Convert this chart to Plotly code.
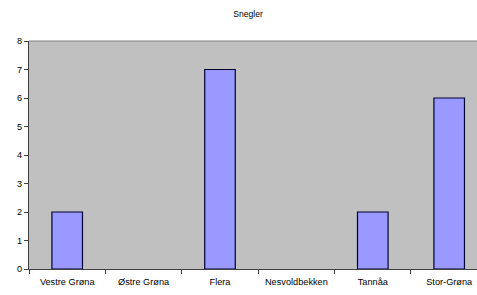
import plotly.graph_objects as go

categories = ["Vestre Grøna", "Østre Grøna", "Flera", "Nesvoldbekken", "Tannåa", "Stor-Grøna"]
values = [2, 0, 7, 0, 2, 6]
y_ticks = [0, 1, 2, 3, 4, 5, 6, 7, 8]
title = "Snegler"

W, H = 477, 295

fig = go.Figure(go.Bar(
    x=categories, y=values, width=0.4,
    marker=dict(color="#9999FF",
                line=dict(color="#000033", width=[1.2 if v else 0 for v in values])),
))
fig.update_layout(
    width=W, height=H,
    margin=dict(l=29, r=0, t=41, b=26),
    paper_bgcolor="white", plot_bgcolor="#C0C0C0",
    font=dict(family="Liberation Sans, Arial", size=9.2, color="black"),
    title=dict(text=title, x=248 / W, xanchor="center", y=1 - 14 / H, yanchor="middle",
               font=dict(size=8.6)),
    showlegend=False,
    shapes=[dict(type="line", xref="paper", yref="paper", x0=0, x1=1, y0=1, y1=1,
                 line=dict(color="#808080", width=1))],
)
fig.update_xaxes(
    type="category", range=[-0.5, 5.364], tickson="boundaries",
    ticks="outside", ticklen=4, tickcolor="#404040", ticklabelstandoff=4,
    showline=True, linecolor="#404040", linewidth=1, showgrid=False,
    fixedrange=True,
)
fig.update_yaxes(
    range=[0, 8], tickvals=y_ticks, ticks="outside", ticklen=4, tickcolor="#404040",
    showline=True, linecolor="#404040", linewidth=1, showgrid=False, zeroline=False,
    fixedrange=True,
)
fig.write_html("out.html", config={"displayModeBar": False},
               post_script="document.body.style.margin='0';document.body.style.overflow='hidden';")
